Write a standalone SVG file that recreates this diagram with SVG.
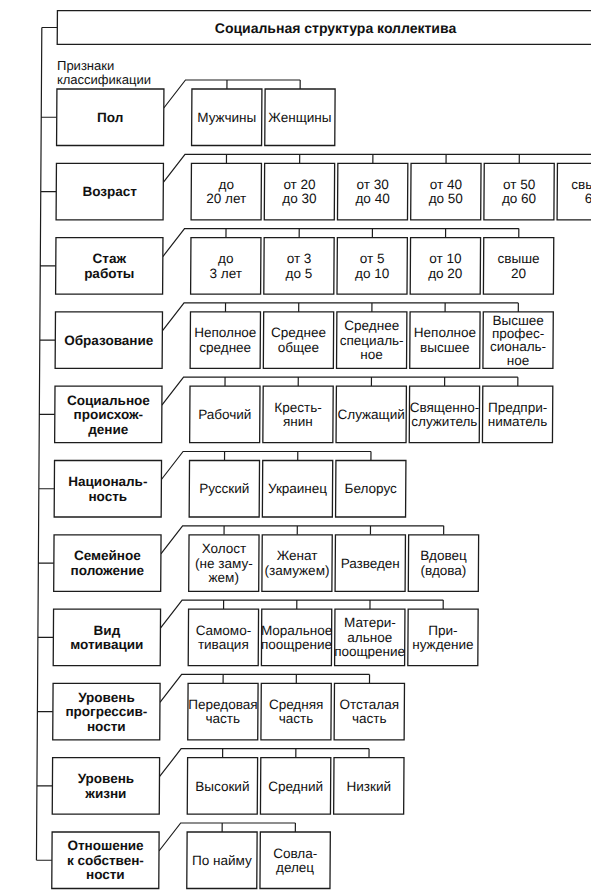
<svg xmlns="http://www.w3.org/2000/svg" width="591" height="896" viewBox="0 0 591 896">
<style>
rect{fill:#fff;stroke:#1c1c1c;stroke-width:1.3}
.ln{fill:none;stroke:#1c1c1c;stroke-width:1.2}
text{font-family:"Liberation Sans",Arial,sans-serif;fill:#111;text-anchor:middle}
.b{font-weight:bold;font-size:13.5px}
.c{font-size:13.5px}
.h{font-weight:bold;font-size:14px}
.p{font-size:13px;text-anchor:start}
</style>
<rect x="0" y="0" width="591" height="896" style="stroke:none"/>
<g transform="skewX(-0.37)">
<g id="connectors" class="ln">
<path d="M42 27.5V860.25M42 27.5H57.5M42 117.25H57.5M42 191.55H57.5M42 265.85H57.5M42 340.15H57.5M42 414.45H57.5M42 488.75H57.5M42 563.05H57.5M42 637.35H57.5M42 711.65H57.5M42 785.95H57.5M42 860.25H57.5"/>
<path d="M164.5 108L186 80H300.7M227.5 80v9M300.7 80v9"/>
<path d="M164.5 182.3L186 154.3H600M227.5 154.3v9M300.7 154.3v9M373.9 154.3v9M447.1 154.3v9M520.3 154.3v9M593.5 154.3v9"/>
<path d="M164.5 256.6L186 228.6H520.3M227.5 228.6v9M300.7 228.6v9M373.9 228.6v9M447.1 228.6v9M520.3 228.6v9"/>
<path d="M164.5 330.9L186 302.9H520.3M227.5 302.9v9M300.7 302.9v9M373.9 302.9v9M447.1 302.9v9M520.3 302.9v9"/>
<path d="M164.5 405.2L186 377.2H520.3M227.5 377.2v9M300.7 377.2v9M373.9 377.2v9M447.1 377.2v9M520.3 377.2v9"/>
<path d="M164.5 479.5L186 451.5H373.9M227.5 451.5v9M300.7 451.5v9M373.9 451.5v9"/>
<path d="M164.5 553.8L186 525.8H447.1M227.5 525.8v9M300.7 525.8v9M373.9 525.8v9M447.1 525.8v9"/>
<path d="M164.5 628.1L186 600.1H447.1M227.5 600.1v9M300.7 600.1v9M373.9 600.1v9M447.1 600.1v9"/>
<path d="M164.5 702.4L186 674.4H373.9M227.5 674.4v9M300.7 674.4v9M373.9 674.4v9"/>
<path d="M164.5 776.7L186 748.7H373.9M227.5 748.7v9M300.7 748.7v9M373.9 748.7v9"/>
<path d="M164.5 851L186 823H300.7M227.5 823v9M300.7 823v9"/>
</g>
<g id="title"><rect x="57.5" y="10.7" width="570" height="33.6"/><text class="h" x="335.7" y="33">Социальная структура коллектива</text></g>
<g id="caption"><text class="p" x="57.5" y="70">Признаки</text><text class="p" x="57.5" y="84.5">классификации</text></g>

<g id="row-pol">
<rect x="57.5" y="89" width="107" height="56.5"/><text class="b" x="111" y="121.85">Пол</text>
<rect x="192.5" y="89" width="70" height="56.5"/><text class="c" x="227.5" y="121.85">Мужчины</text>
<rect x="265.7" y="89" width="70" height="56.5"/><text class="c" x="300.7" y="121.85">Женщины</text>
</g>

<g id="row-vozrast">
<rect x="57.5" y="163.3" width="107" height="56.5"/><text class="b" x="111" y="196.15">Возраст</text>
<rect x="192.5" y="163.3" width="70" height="56.5"/><text class="c"><tspan x="227.5" y="188.9">до</tspan><tspan x="227.5" y="203.4">20 лет</tspan></text>
<rect x="265.7" y="163.3" width="70" height="56.5"/><text class="c"><tspan x="300.7" y="188.9">от 20</tspan><tspan x="300.7" y="203.4">до 30</tspan></text>
<rect x="338.9" y="163.3" width="70" height="56.5"/><text class="c"><tspan x="373.9" y="188.9">от 30</tspan><tspan x="373.9" y="203.4">до 40</tspan></text>
<rect x="412.1" y="163.3" width="70" height="56.5"/><text class="c"><tspan x="447.1" y="188.9">от 40</tspan><tspan x="447.1" y="203.4">до 50</tspan></text>
<rect x="485.3" y="163.3" width="70" height="56.5"/><text class="c"><tspan x="520.3" y="188.9">от 50</tspan><tspan x="520.3" y="203.4">до 60</tspan></text>
<rect x="558.5" y="163.3" width="70" height="56.5"/><text class="c"><tspan x="593.5" y="188.9">свыше</tspan><tspan x="593.5" y="203.4">60</tspan></text>
</g>

<g id="row-stazh">
<rect x="57.5" y="237.6" width="107" height="56.5"/><text class="b"><tspan x="111" y="263.2">Стаж</tspan><tspan x="111" y="277.7">работы</tspan></text>
<rect x="192.5" y="237.6" width="70" height="56.5"/><text class="c"><tspan x="227.5" y="263.2">до</tspan><tspan x="227.5" y="277.7">3 лет</tspan></text>
<rect x="265.7" y="237.6" width="70" height="56.5"/><text class="c"><tspan x="300.7" y="263.2">от 3</tspan><tspan x="300.7" y="277.7">до 5</tspan></text>
<rect x="338.9" y="237.6" width="70" height="56.5"/><text class="c"><tspan x="373.9" y="263.2">от 5</tspan><tspan x="373.9" y="277.7">до 10</tspan></text>
<rect x="412.1" y="237.6" width="70" height="56.5"/><text class="c"><tspan x="447.1" y="263.2">от 10</tspan><tspan x="447.1" y="277.7">до 20</tspan></text>
<rect x="485.3" y="237.6" width="70" height="56.5"/><text class="c"><tspan x="520.3" y="263.2">свыше</tspan><tspan x="520.3" y="277.7">20</tspan></text>
</g>

<g id="row-obrazovanie">
<rect x="57.5" y="311.9" width="107" height="56.5"/><text class="b" x="111" y="344.75">Образование</text>
<rect x="192.5" y="311.9" width="70" height="56.5"/><text class="c"><tspan x="227.5" y="337.5">Неполное</tspan><tspan x="227.5" y="352">среднее</tspan></text>
<rect x="265.7" y="311.9" width="70" height="56.5"/><text class="c"><tspan x="300.7" y="337.5">Среднее</tspan><tspan x="300.7" y="352">общее</tspan></text>
<rect x="338.9" y="311.9" width="70" height="56.5"/><text class="c"><tspan x="373.9" y="330.25">Среднее</tspan><tspan x="373.9" y="344.75">специаль-</tspan><tspan x="373.9" y="359.25">ное</tspan></text>
<rect x="412.1" y="311.9" width="70" height="56.5"/><text class="c"><tspan x="447.1" y="337.5">Неполное</tspan><tspan x="447.1" y="352">высшее</tspan></text>
<rect x="485.3" y="311.9" width="70" height="56.5"/><text class="c"><tspan x="520.3" y="324.95">Высшее</tspan><tspan x="520.3" y="338.15">профес-</tspan><tspan x="520.3" y="351.35">сиональ-</tspan><tspan x="520.3" y="364.55">ное</tspan></text>
</g>

<g id="row-proiskhozhdenie">
<rect x="57.5" y="386.2" width="107" height="56.5"/><text class="b"><tspan x="111" y="404.55">Социальное</tspan><tspan x="111" y="419.05">происхож-</tspan><tspan x="111" y="433.55">дение</tspan></text>
<rect x="192.5" y="386.2" width="70" height="56.5"/><text class="c" x="227.5" y="419.05">Рабочий</text>
<rect x="265.7" y="386.2" width="70" height="56.5"/><text class="c"><tspan x="300.7" y="411.8">Кресть-</tspan><tspan x="300.7" y="426.3">янин</tspan></text>
<rect x="338.9" y="386.2" width="70" height="56.5"/><text class="c" x="373.9" y="419.05">Служащий</text>
<rect x="412.1" y="386.2" width="70" height="56.5"/><text class="c"><tspan x="447.1" y="411.8">Священно-</tspan><tspan x="447.1" y="426.3">служитель</tspan></text>
<rect x="485.3" y="386.2" width="70" height="56.5"/><text class="c"><tspan x="520.3" y="411.8">Предпри-</tspan><tspan x="520.3" y="426.3">ниматель</tspan></text>
</g>

<g id="row-nacionalnost">
<rect x="57.5" y="460.5" width="107" height="56.5"/><text class="b"><tspan x="111" y="486.1">Националь-</tspan><tspan x="111" y="500.6">ность</tspan></text>
<rect x="192.5" y="460.5" width="70" height="56.5"/><text class="c" x="227.5" y="493.35">Русский</text>
<rect x="265.7" y="460.5" width="70" height="56.5"/><text class="c" x="300.7" y="493.35">Украинец</text>
<rect x="338.9" y="460.5" width="70" height="56.5"/><text class="c" x="373.9" y="493.35">Белорус</text>
</g>

<g id="row-semeinoe">
<rect x="57.5" y="534.8" width="107" height="56.5"/><text class="b"><tspan x="111" y="560.4">Семейное</tspan><tspan x="111" y="574.9">положение</tspan></text>
<rect x="192.5" y="534.8" width="70" height="56.5"/><text class="c"><tspan x="227.5" y="553.15">Холост</tspan><tspan x="227.5" y="567.65">(не заму-</tspan><tspan x="227.5" y="582.15">жем)</tspan></text>
<rect x="265.7" y="534.8" width="70" height="56.5"/><text class="c"><tspan x="300.7" y="560.4">Женат</tspan><tspan x="300.7" y="574.9">(замужем)</tspan></text>
<rect x="338.9" y="534.8" width="70" height="56.5"/><text class="c" x="373.9" y="567.65">Разведен</text>
<rect x="412.1" y="534.8" width="70" height="56.5"/><text class="c"><tspan x="447.1" y="560.4">Вдовец</tspan><tspan x="447.1" y="574.9">(вдова)</tspan></text>
</g>

<g id="row-motivaciya">
<rect x="57.5" y="609.1" width="107" height="56.5"/><text class="b"><tspan x="111" y="634.7">Вид</tspan><tspan x="111" y="649.2">мотивации</tspan></text>
<rect x="192.5" y="609.1" width="70" height="56.5"/><text class="c"><tspan x="227.5" y="634.7">Самомо-</tspan><tspan x="227.5" y="649.2">тивация</tspan></text>
<rect x="265.7" y="609.1" width="70" height="56.5"/><text class="c"><tspan x="300.7" y="634.7">Моральное</tspan><tspan x="300.7" y="649.2">поощрение</tspan></text>
<rect x="338.9" y="609.1" width="70" height="56.5"/><text class="c"><tspan x="373.9" y="627.45">Матери-</tspan><tspan x="373.9" y="641.95">альное</tspan><tspan x="373.9" y="656.45">поощрение</tspan></text>
<rect x="412.1" y="609.1" width="70" height="56.5"/><text class="c"><tspan x="447.1" y="634.7">При-</tspan><tspan x="447.1" y="649.2">нуждение</tspan></text>
</g>

<g id="row-progressivnost">
<rect x="57.5" y="683.4" width="107" height="56.5"/><text class="b"><tspan x="111" y="701.75">Уровень</tspan><tspan x="111" y="716.25">прогрессив-</tspan><tspan x="111" y="730.75">ности</tspan></text>
<rect x="192.5" y="683.4" width="70" height="56.5"/><text class="c"><tspan x="227.5" y="709">Передовая</tspan><tspan x="227.5" y="723.5">часть</tspan></text>
<rect x="265.7" y="683.4" width="70" height="56.5"/><text class="c"><tspan x="300.7" y="709">Средняя</tspan><tspan x="300.7" y="723.5">часть</tspan></text>
<rect x="338.9" y="683.4" width="70" height="56.5"/><text class="c"><tspan x="373.9" y="709">Отсталая</tspan><tspan x="373.9" y="723.5">часть</tspan></text>
</g>

<g id="row-uroven-zhizni">
<rect x="57.5" y="757.7" width="107" height="56.5"/><text class="b"><tspan x="111" y="783.3">Уровень</tspan><tspan x="111" y="797.8">жизни</tspan></text>
<rect x="192.5" y="757.7" width="70" height="56.5"/><text class="c" x="227.5" y="790.55">Высокий</text>
<rect x="265.7" y="757.7" width="70" height="56.5"/><text class="c" x="300.7" y="790.55">Средний</text>
<rect x="338.9" y="757.7" width="70" height="56.5"/><text class="c" x="373.9" y="790.55">Низкий</text>
</g>

<g id="row-sobstvennost">
<rect x="57.5" y="832" width="107" height="56.5"/><text class="b"><tspan x="111" y="850.35">Отношение</tspan><tspan x="111" y="864.85">к собствен-</tspan><tspan x="111" y="879.35">ности</tspan></text>
<rect x="192.5" y="832" width="70" height="56.5"/><text class="c" x="227.5" y="864.85">По найму</text>
<rect x="265.7" y="832" width="70" height="56.5"/><text class="c"><tspan x="300.7" y="857.6">Совла-</tspan><tspan x="300.7" y="872.1">делец</tspan></text>
</g>
</g>
</svg>
